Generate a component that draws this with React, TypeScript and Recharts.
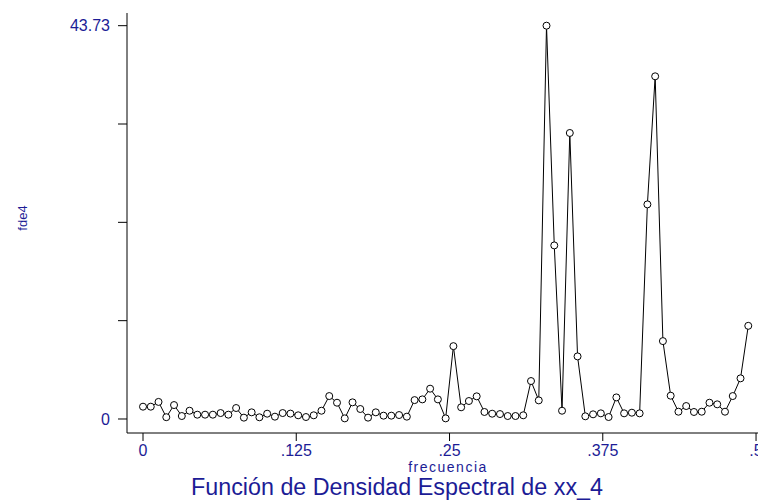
import React from 'react';
import { LineChart, Line, XAxis, YAxis } from 'recharts';

const frecuencia = [
  0, 0.00633, 0.01266, 0.01899, 0.02532, 0.03165, 0.03797, 0.0443, 0.05063, 0.05696,
  0.06329, 0.06962, 0.07595, 0.08228, 0.08861, 0.09494, 0.10127, 0.10759, 0.11392, 0.12025,
  0.12658, 0.13291, 0.13924, 0.14557, 0.1519, 0.15823, 0.16456, 0.17089, 0.17722, 0.18354,
  0.18987, 0.1962, 0.20253, 0.20886, 0.21519, 0.22152, 0.22785, 0.23418, 0.24051, 0.24684,
  0.25316, 0.25949, 0.26582, 0.27215, 0.27848, 0.28481, 0.29114, 0.29747, 0.3038, 0.31013,
  0.31646, 0.32278, 0.32911, 0.33544, 0.34177, 0.3481, 0.35443, 0.36076, 0.36709, 0.37342,
  0.37975, 0.38608, 0.39241, 0.39873, 0.40506, 0.41139, 0.41772, 0.42405, 0.43038, 0.43671,
  0.44304, 0.44937, 0.4557, 0.46203, 0.46835, 0.47468, 0.48101, 0.48734, 0.49367,
];

const fde4 = [
  1.37, 1.37, 1.9, 0.2, 1.55, 0.33, 0.92, 0.48, 0.48, 0.48,
  0.66, 0.48, 1.22, 0.15, 0.74, 0.19, 0.59, 0.26, 0.66, 0.6,
  0.41, 0.22, 0.41, 0.92, 2.55, 1.81, 0.07, 1.85, 1.11, 0.15,
  0.74, 0.37, 0.37, 0.44, 0.26, 2.1, 2.18, 3.37, 2.18, 0.07,
  8.1, 1.3, 2.0, 2.52, 0.78, 0.59, 0.55, 0.33, 0.33, 0.41,
  4.22, 2.07, 43.73, 19.3, 0.92, 31.8, 6.96, 0.3, 0.52, 0.63,
  0.22, 2.4, 0.63, 0.7, 0.63, 23.86, 38.1, 8.66, 2.59, 0.81,
  1.44, 0.78, 0.81, 1.81, 1.63, 0.81, 2.55, 4.52, 10.36,
];

const xTicks = [0, 0.125, 0.25, 0.375, 0.5];
const xTickLabels = ['0', '.125', '.25', '.375', '.5'];
const yTicks = [0, 10.9325, 21.865, 32.7975, 43.73];
const yTickLabels = ['0', '', '', '', '43.73'];

const titleText = 'Función de Densidad Espectral de xx_4';
const xTitle = 'frecuencia';
const yTitle = 'fde4';

const data = frecuencia.map((f, i) => ({ f, v: fde4[i] }));

const BLUE = '#1c1c96';
const FONT = 'Liberation Sans, Arial, sans-serif';

export default function App() {
  return (
    <div style={{ position: 'absolute', left: 0, top: 0, width: 758, height: 502, background: '#fff', overflow: 'hidden' }}>
      <LineChart
        width={758}
        height={502}
        data={data}
        margin={{ top: 13, right: 0, left: 0, bottom: 0 }}
      >
        <XAxis
          dataKey="f"
          type="number"
          domain={[-0.01305, 0.5016]}
          allowDataOverflow
          ticks={xTicks}
          tickFormatter={(v: number) => xTickLabels[xTicks.indexOf(v)] ?? ''}
          height={69}
          tickSize={8}
          tickMargin={4}
          stroke="#000"
          tick={{ fill: BLUE, fontSize: 16, fontFamily: FONT }}
          tickLine={{ stroke: '#000' }}
          axisLine={{ stroke: '#000' }}
          interval={0}
        />
        <YAxis
          type="number"
          domain={[-1.557, 45.14]}
          allowDataOverflow
          ticks={yTicks}
          tickFormatter={(v: number) => yTickLabels[yTicks.indexOf(v)] ?? ''}
          width={127}
          tickSize={9}
          tickMargin={8}
          stroke="#000"
          tick={{ fill: BLUE, fontSize: 16, fontFamily: FONT }}
          tickLine={{ stroke: '#000' }}
          axisLine={{ stroke: '#000' }}
          interval={0}
        />
        <Line
          dataKey="v"
          type="linear"
          stroke="#000"
          strokeWidth={1}
          dot={{ r: 3.5, stroke: '#000', strokeWidth: 1, fill: '#fff' }}
          isAnimationActive={false}
        />
      </LineChart>
      <svg
        width={758}
        height={502}
        style={{ position: 'absolute', left: 0, top: 0, pointerEvents: 'none' }}
      >
        <text
          x={22}
          y={218}
          transform="rotate(-90 22 218)"
          textAnchor="middle"
          dominantBaseline="central"
          fill={BLUE}
          fontSize={13}
          fontFamily={FONT}
        >
          {yTitle}
        </text>
        <text
          x={448}
          y={472}
          textAnchor="middle"
          fill={BLUE}
          fontSize={14}
          letterSpacing={1.5}
          fontFamily={FONT}
        >
          {xTitle}
        </text>
        <text
          x={397}
          y={495}
          textAnchor="middle"
          fill={BLUE}
          fontSize={23}
          textLength={412}
          lengthAdjust="spacingAndGlyphs"
          fontFamily={FONT}
        >
          {titleText}
        </text>
      </svg>
    </div>
  );
}
